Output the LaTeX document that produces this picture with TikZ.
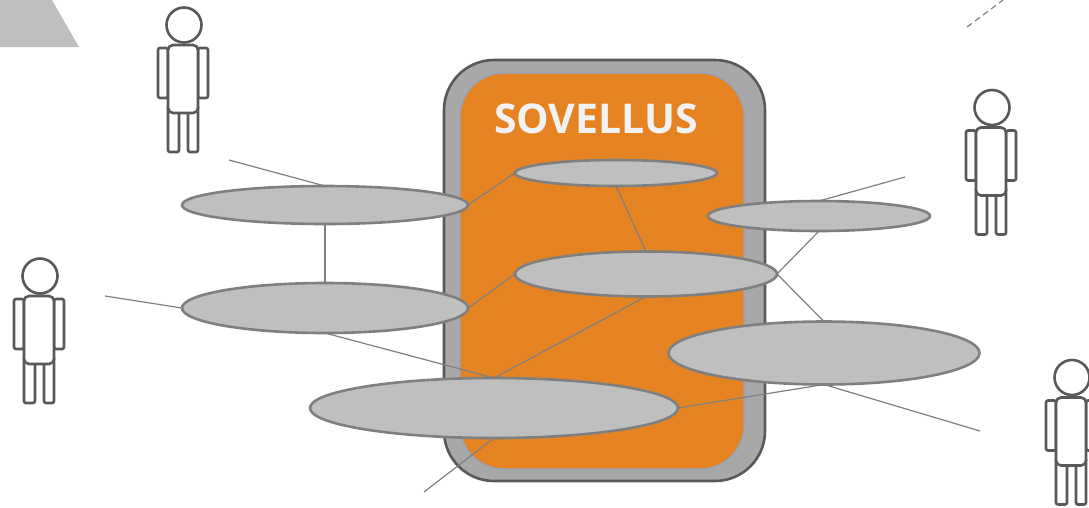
\documentclass[tikz,border=0pt]{standalone}
\usepackage{fontspec}
\setmainfont{Open Sans}
\usetikzlibrary{shapes.geometric}
\definecolor{frameFill}{HTML}{A8A8A8}
\definecolor{frameLine}{HTML}{595959}
\definecolor{orangeFill}{HTML}{E58322}
\definecolor{innerLine}{HTML}{92A5C0}
\definecolor{ovalFill}{HTML}{BFBFBF}
\definecolor{ovalLine}{HTML}{7F7F7F}
\definecolor{titleText}{HTML}{F2F2F2}
\pgfdeclarelayer{base}
\pgfdeclarelayer{links}
\pgfsetlayers{base,links,main}
\tikzset{
  oval/.style={ellipse,draw=ovalLine,fill=ovalFill,line width=2.6pt,inner sep=0pt,outer sep=0pt},
  link/.style={draw=ovalLine,line width=1.2pt},
  limb/.style={draw=frameLine,line width=2.6pt,fill=white,rounded corners=2pt},
  person/.pic={
    \path[limb] (-26,23) rectangle (-16,73);
    \path[limb] (14,23) rectangle (24,73);
    \path[limb] (-16,80) rectangle (-5,127);
    \path[limb] (4,80) rectangle (14,127);
    \path[limb,rounded corners=5pt] (-16,20) rectangle (14,88);
    \node[circle,draw=frameLine,line width=2.6pt,fill=white,minimum size=35pt,inner sep=0pt] (-head) at (0,0) {};
  }
}
\begin{document}
\begin{tikzpicture}[x=1pt,y=-1pt]
\useasboundingbox (0,0) rectangle (1089,507);
\begin{pgfonlayer}{base}
  \fill[ovalFill] (0,0) -- (52,0) -- (79,47) -- (0,47) -- cycle;
  \node[draw=frameLine,fill=frameFill,line width=2.6pt,rounded corners=50pt,minimum width=321pt,minimum height=421pt,inner sep=0pt,outer sep=0pt] (frame) at (604.5,270.5) {};
  \node[draw=innerLine,fill=orangeFill,line width=1.2pt,rounded corners=44pt,minimum width=284pt,minimum height=396pt,inner sep=0pt,outer sep=0pt] (inner) at (602,271) {};
\end{pgfonlayer}
\node[font=\bfseries\fontsize{41}{41}\selectfont,text=titleText,inner sep=0pt] (title) at (596,119) {SOVELLUS};

\node[oval,minimum width=286pt,minimum height=38pt] (uc1) at (325,205) {};
\node[oval,minimum width=286pt,minimum height=50pt] (uc2) at (325,308) {};
\node[oval,minimum width=202pt,minimum height=26pt] (uc3) at (616,173) {};
\node[oval,minimum width=262pt,minimum height=45pt] (uc4) at (646,274) {};
\node[oval,minimum width=222pt,minimum height=30pt] (uc5) at (819,216) {};
\node[oval,minimum width=311pt,minimum height=63pt] (uc6) at (824,353) {};
\node[oval,minimum width=368pt,minimum height=60pt] (uc7) at (494,408) {};

\pic (p1) at (184,25) {person};
\pic (p2) at (992,107.5) {person};
\pic (p3) at (40,276) {person};
\pic (p4) at (1072,377.5) {person};

\coordinate (f1) at (229,160);
\coordinate (f2) at (105,296);
\coordinate (f3) at (424,492);
\coordinate (f4) at (980,431);
\coordinate (f5) at (905,177);
\coordinate (d1) at (967,27);
\coordinate (d2) at (1003,0);

\begin{pgfonlayer}{links}
  \draw[link] (f1) -- (uc1.north);
  \draw[link] (f2) -- (uc2.west);
  \draw[link] (uc1.south) -- (uc2.north);
  \draw[link] (uc1.east) -- (uc3.west);
  \draw[link] (uc2.east) -- (uc4.west);
  \draw[link] (uc2.south) -- (uc7.north);
  \draw[link] (uc3.south) -- (uc4.north);
  \draw[link] (uc4.south) -- (uc7.north);
  \draw[link] (uc7.south) -- (f3);
  \draw[link] (uc7.east) -- (uc6.south);
  \draw[link] (uc6.south) -- (f4);
  \draw[link] (uc4.east) -- (uc6.north);
  \draw[link] (uc4.east) -- (uc5.south);
  \draw[link] (uc5.north) -- (f5);
  \draw[link,dash pattern=on 6pt off 4pt] (d1) -- (d2);
\end{pgfonlayer}
\end{tikzpicture}
\end{document}
